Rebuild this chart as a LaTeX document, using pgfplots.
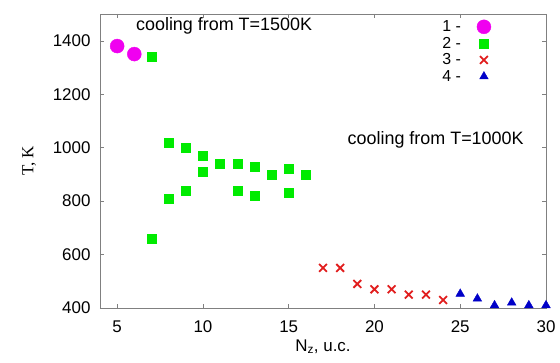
\documentclass[border=0pt]{standalone}
\usepackage{pgfplots}
\pgfplotsset{compat=1.18}
\usepackage{fontspec}
\setmainfont{Liberation Sans}
\newfontfamily\serifrm{Liberation Serif}
\definecolor{cmag}{RGB}{240,0,240}
\definecolor{cgreen}{RGB}{0,235,0}
\definecolor{cred}{RGB}{225,30,30}
\definecolor{cblue}{RGB}{0,0,200}
\begin{document}
\begin{tikzpicture}[x=1bp,y=1bp]
\useasboundingbox (-100bp,-55bp) rectangle (460bp,308bp);
\begin{axis}[
  at={(0,0)}, anchor=south west,
  scale only axis, width=446bp, height=294bp,
  xmin=4, xmax=30, ymin=400, ymax=1500,
  xtick={5,10,15,20,25,30},
  ytick={400,600,800,1000,1200,1400},
  tick align=inside,
  major tick length=4bp,
  axis line style={gray, line width=0.8pt},
  every tick/.style={gray},
  /pgf/number format/assume math mode=true,
  /pgf/number format/1000 sep={},
  tick label style={font=\fontsize{17}{19}\selectfont, black},
  xticklabel style={yshift=-9bp},
  yticklabel style={xshift=-6bp},
  xlabel={N$_{\mathrm{z}}$, u.c.},
  xlabel style={font=\fontsize{17}{19}\selectfont, yshift=0bp},
  ylabel={\serifrm T, K},
  ylabel style={font=\fontsize{17}{19}\selectfont, yshift=10bp},
  legend plot pos=right,
  legend cell align=right,
  legend style={draw=none, fill=none, at={(0.877,0.985)}, anchor=north east,
     font=\fontsize{16}{15}\selectfont, row sep=0bp, column sep=14bp, inner sep=0pt},
  clip=false,
]
\addplot[only marks, mark=*, mark size=7bp, cmag, mark options={fill=cmag, draw=cmag}]
 coordinates {(5,1380) (6,1350)};
\addlegendentry{1 -}
\addplot[only marks, mark=square*, mark size=4.5bp, cgreen, mark options={fill=cgreen, draw=cgreen}]
 coordinates {(7,1340) (7,660) (8,1020) (8,810) (9,1000) (9,840) (10,970) (10,910)
 (11,940) (12,940) (12,840) (13,930) (13,820) (14,900) (15,920) (15,830) (16,900)};
\addlegendentry{2 -}
\addplot[only marks, mark=x, mark size=5.5bp, cred, mark options={line width=1.8pt}]
 coordinates {(17,550) (18,550) (19,490) (20,470) (21,470) (22,450) (23,450) (24,430)};
\addlegendentry{3 -}
\addplot[only marks, mark=triangle*, mark size=5bp, cblue, mark options={fill=cblue, draw=cblue}]
 coordinates {(25,453) (26,435) (27,410) (28,420) (29,410) (30,410)};
\addlegendentry{4 -}
\node[anchor=base west, font=\fontsize{18}{20}\selectfont] at (axis cs:5.9,1437) {cooling from T=1500K};
\node[anchor=base east, font=\fontsize{18}{20}\selectfont] at (axis cs:28.9,1012) {cooling from T=1000K};
\end{axis}
\end{tikzpicture}
\end{document}
